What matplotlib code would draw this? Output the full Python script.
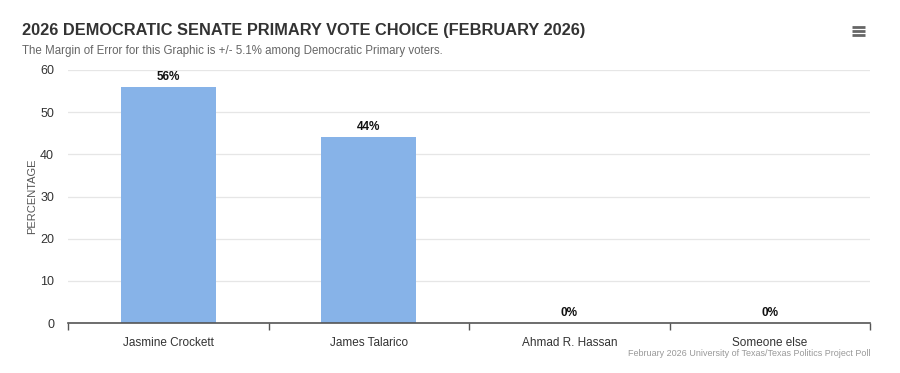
import numpy as np
import matplotlib.pyplot as plt

# -------------------------------------------------------------------
# Data
# -------------------------------------------------------------------
candidates = ["Jasmine Crockett", "James Talarico", "Ahmad R. Hassan", "Someone else"]
percentages = [56, 44, 0, 0]
y_ticks = [0, 10, 20, 30, 40, 50, 60]

TITLE = "2026 DEMOCRATIC SENATE PRIMARY VOTE CHOICE (FEBRUARY 2026)"
SUBTITLE = "The Margin of Error for this Graphic is +/- 5.1% among Democratic Primary voters."
CREDIT = "February 2026 University of Texas/Texas Politics Project Poll"

plt.rcParams["font.family"] = ["Liberation Sans", "DejaVu Sans"]

W, H = 900, 373
fig = plt.figure(figsize=(W / 100, H / 100), dpi=100)
ax = fig.add_axes([68 / W, 1 - 323 / H, (870 - 68) / W, (323 - 70) / H])

x = np.arange(len(candidates))
ax.bar(x, percentages, width=0.475, color="#87b3e8", zorder=2)

for xi, v in zip(x, percentages):
    ax.annotate(f"{v}%", (xi, v), xytext=(0, 3), textcoords="offset points",
                ha="center", va="bottom", fontsize=8.5, fontweight="bold",
                color="#111111")

ax.set_xlim(-0.5, len(candidates) - 0.5)
ax.set_ylim(0, 60)
ax.set_yticks(y_ticks)
ax.yaxis.grid(True, color="#e6e6e6", linewidth=0.9, zorder=0)
ax.set_axisbelow(True)

# category ticks at the boundaries
ax.set_xticks(np.arange(len(candidates) + 1) - 0.5, minor=False)
ax.set_xticklabels([])
ax.set_xticks(x, minor=True)
ax.set_xticklabels(candidates, minor=True, fontsize=8.5, color="#333333")
ax.tick_params(axis="x", which="major", length=5, width=1, color="#555555", direction="out")
ax.tick_params(axis="x", which="minor", length=0, pad=10)
ax.tick_params(axis="y", length=0, labelsize=9, colors="#333333", pad=10)

for side in ["top", "right", "left"]:
    ax.spines[side].set_visible(False)
ax.spines["bottom"].set_color("#555555")
ax.spines["bottom"].set_linewidth(1.2)

ax.set_ylabel("PERCENTAGE", fontsize=8, color="#555555", labelpad=2)

fig.text(22 / W, 1 - 31 / H, TITLE, fontsize=11.8, fontweight="bold",
         color="#333333", ha="left", va="center")
fig.text(22 / W, 1 - 51 / H, SUBTITLE, fontsize=8.3, color="#666666",
         ha="left", va="center")
fig.text(870 / W, 1 - 354 / H, CREDIT, fontsize=6.5, color="#999999",
         ha="right", va="center")

# menu icon
for dy in (-4, 0, 4):
    fig.add_artist(plt.Line2D([852 / W, 865 / W], [1 - (31 + dy) / H] * 2,
                              color="#666666", linewidth=2, solid_capstyle="butt"))

fig.savefig("out.png", dpi=100)
